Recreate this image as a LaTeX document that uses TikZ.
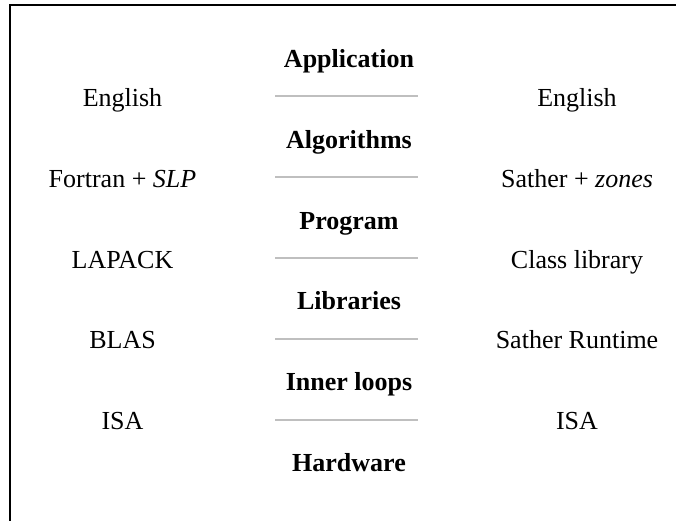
\documentclass[tikz,border=0pt]{standalone}
\usepackage{fontspec}
\setmainfont{Liberation Serif}
\begin{document}
\begin{tikzpicture}[x=1pt,y=-1pt,
  every node/.style={font=\fontsize{26}{30}\selectfont, inner sep=0pt, anchor=base},
  layer/.style={font=\fontsize{26}{30}\selectfont\bfseries},
  sep/.style={draw=black!25, line width=2pt}]
\useasboundingbox (0,0) rectangle (676,521);
\draw[line width=2pt] (10,521) -- (10,5) -- (676,5);
% layers
\node[layer] (app) at (349,68) {Application};
\node[layer] (alg) at (349,148.6) {Algorithms};
\node[layer] (prog) at (349,229.2) {Program};
\node[layer] (lib) at (349,309.8) {Libraries};
\node[layer] (inner) at (349,390.4) {Inner loops};
\node[layer] (hw) at (349,471) {Hardware};
% separators
\foreach \i/\y in {1/96,2/177,3/258,4/339,5/420}{
  \coordinate (s\i a) at (275,\y);
  \coordinate (s\i b) at (418,\y);
  \draw[sep] (s\i a) -- (s\i b);
}
% left
\node (l1) at (122.5,106.5) {English};
\node (l2) at (122.5,187.25) {Fortran + \textit{SLP}};
\node (l3) at (122.5,268) {LAPACK};
\node (l4) at (122.5,348.75) {BLAS};
\node (l5) at (122.5,429.5) {ISA};
% right
\node (r1) at (577,106.5) {English};
\node (r2) at (577,187.25) {Sather + \textit{zones}};
\node (r3) at (577,268) {Class library};
\node (r4) at (577,348.75) {Sather Runtime};
\node (r5) at (577,429.5) {ISA};
\end{tikzpicture}
\end{document}
